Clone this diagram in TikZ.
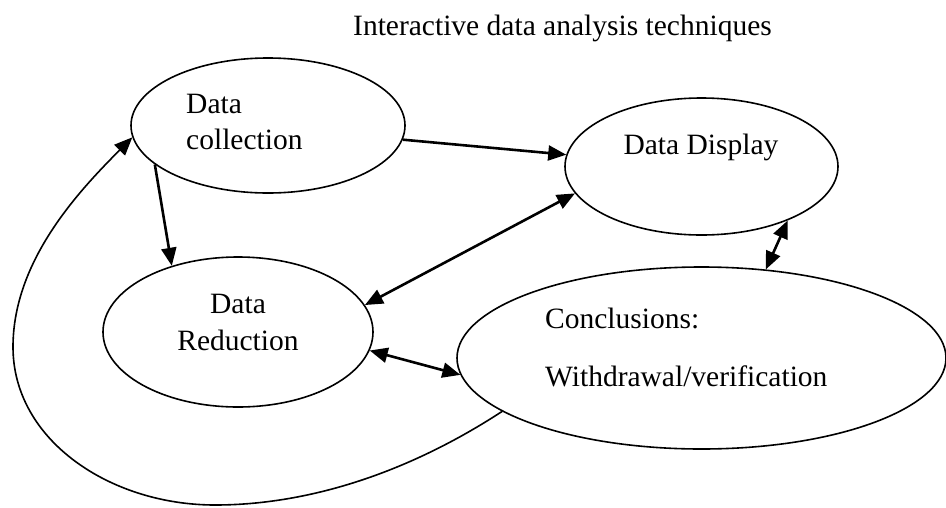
\documentclass[tikz,border=0pt]{standalone}
\usepackage{fontspec}
\setmainfont{Liberation Serif}
\usetikzlibrary{arrows.meta,shapes.geometric}
\begin{document}
\begin{tikzpicture}[x=1pt,y=-1pt,
  oval/.style={draw,line width=1.6pt,ellipse,inner sep=0pt},
  label/.style={font=\fontsize{29.5}{35}\selectfont,inner sep=0pt},
  link/.style={line width=2.6pt,-{Triangle[length=18pt,width=15pt]}},
  twoway/.style={line width=2.6pt,{Triangle[length=18pt,width=15pt]}-{Triangle[length=18pt,width=15pt]}},
  loop/.style={line width=1.6pt,-{Triangle[length=18pt,width=15pt]}}]
\useasboundingbox (0,0) rectangle (946,507);

% title
\node[label,anchor=base west] (title) at (353,35) {Interactive data analysis techniques};

% the four stages
\node[oval,minimum width=274pt,minimum height=135pt] (col) at (268,125.5) {};
\node[oval,minimum width=273pt,minimum height=137pt] (disp) at (701.5,166.5) {};
\node[oval,minimum width=270pt,minimum height=150pt] (red) at (238,332) {};
\node[oval,minimum width=489pt,minimum height=182pt] (conc) at (701.5,358) {};

% stage texts
\node[label,anchor=base west] (colA) at (186,113) {Data};
\node[label,anchor=base west] (colB) at (186,149) {collection};
\node[label,anchor=base] (dispA) at (701,154) {Data Display};
\node[label,anchor=base] (redA) at (238,313) {Data};
\node[label,anchor=base] (redB) at (238,350) {Reduction};
\node[label,anchor=base west] (concA) at (545,328) {Conclusions:};
\node[label,anchor=base west] (concB) at (545,386) {Withdrawal/verification};

% connectors
\draw[link] (col.-6) -- (disp.175);
\draw[link] (col.-161.6) -- (red.135);
\draw[twoway] (disp.192) -- (red.12);
\draw[twoway] (disp.-32) -- (conc.54);
\draw[twoway] (red.-8) -- (conc.184);

% feedback loop from conclusions back to collection
\coordinate (lb) at (215,505);
\coordinate (ll) at (13,347);
\draw[loop] (conc.195) .. controls (400,478) and (300,505) .. (lb)
  .. controls (110,505) and (13,440) .. (ll)
  .. controls (13,260) and (80,190) .. (col.185);
\end{tikzpicture}
\end{document}
